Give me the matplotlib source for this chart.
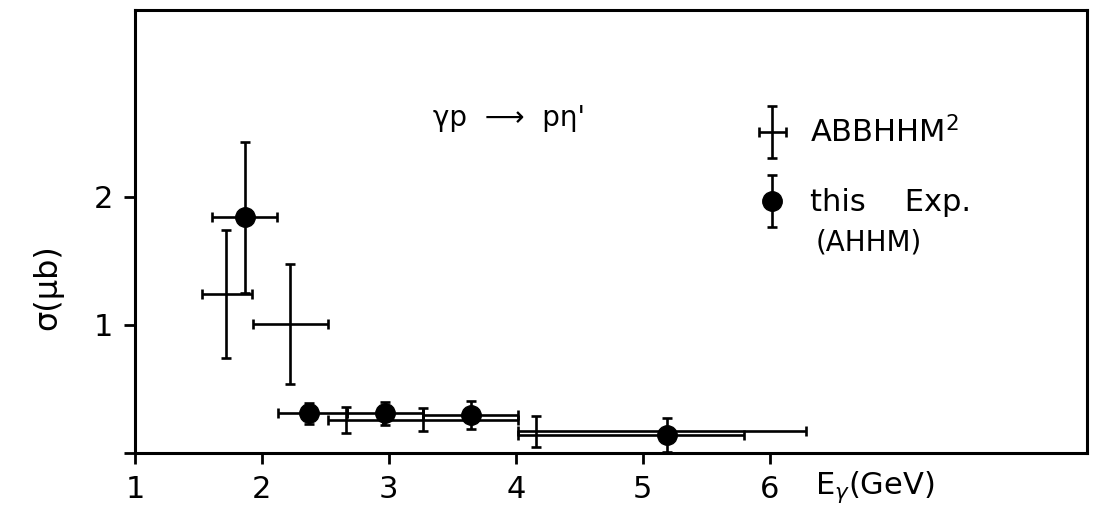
import numpy as np
import matplotlib
matplotlib.use("Agg")
import matplotlib.pyplot as plt
from matplotlib.container import ErrorbarContainer
from matplotlib.legend_handler import HandlerErrorbar

# Photon energy bins (GeV) and cross sections (microbarn) for  gamma p -> p eta'
# this experiment (AHHM)
e_ahhm = [1.87, 2.37, 2.97, 3.65, 5.19]
e_ahhm_lo = [1.61, 2.13, 2.67, 3.27, 4.02]
e_ahhm_hi = [2.12, 2.67, 3.27, 4.02, 5.80]
sig_ahhm = [1.84, 0.31, 0.31, 0.30, 0.14]
dsig_ahhm = [0.59, 0.08, 0.09, 0.11, 0.13]

# earlier measurement (ABBHHM)
e_abb = [1.72, 2.22, 2.66, 3.27, 4.16]
e_abb_lo = [1.53, 1.93, 2.52, 2.95, 4.02]
e_abb_hi = [1.92, 2.52, 2.95, 4.02, 6.29]
sig_abb = [1.24, 1.01, 0.26, 0.26, 0.17]
dsig_abb = [0.50, 0.47, 0.10, 0.09, 0.12]

x_ticks = [1, 2, 3, 4, 5, 6]
y_ticks = [0, 1, 2]
y_ticklabels = ["", "1", "2"]

W, H = 1096, 509


def px(x, y):
    """Figure-fraction position from pixel coordinates (origin top-left)."""
    return x / W, 1 - y / H


fig = plt.figure(figsize=(W / 100, H / 100), dpi=100)
ax = fig.add_axes([135 / W, 56 / H, 952 / W, 443 / H])

lw = 1.9
ax.errorbar(e_abb, sig_abb,
            xerr=[np.subtract(e_abb, e_abb_lo), np.subtract(e_abb_hi, e_abb)],
            yerr=dsig_abb, fmt="none", ecolor="black",
            elinewidth=lw, capsize=3.5, capthick=lw, zorder=3)
ax.errorbar(e_ahhm, sig_ahhm,
            xerr=[np.subtract(e_ahhm, e_ahhm_lo), np.subtract(e_ahhm_hi, e_ahhm)],
            yerr=dsig_ahhm, fmt="o", color="black", ms=14,
            elinewidth=lw, capsize=3.5, capthick=lw, zorder=4)

ax.set_xlim(1, 8.5)
ax.set_ylim(0, 3.46)
ax.set_xticks(x_ticks)
ax.set_yticks(y_ticks)
ax.set_yticklabels(y_ticklabels)
for s in ax.spines.values():
    s.set_linewidth(2.2)
ax.tick_params(direction="out", length=8, width=2, labelsize=22, pad=8)

# legend keys (no data drawn)
h_abb = ax.errorbar([np.nan], [np.nan], xerr=[0.1], yerr=[0.1], fmt="none",
                    ecolor="black", elinewidth=lw, capsize=3.5, capthick=lw)
h_ahhm = ax.errorbar([np.nan], [np.nan], yerr=[0.1], fmt="o", color="black",
                     ms=14, elinewidth=lw, capsize=3.5, capthick=lw)
leg = ax.legend([h_abb, h_ahhm], ["ABBHHM$^2$", "this    Exp."],
                handler_map={ErrorbarContainer: HandlerErrorbar(xerr_size=0.45, yerr_size=0.85)},
                loc="upper left", bbox_to_anchor=px(757, 116),
                bbox_transform=fig.transFigure, frameon=False, fontsize=22,
                handlelength=1.0, handletextpad=0.75, labelspacing=1.3,
                borderpad=0, borderaxespad=0)
fig.text(*px(816, 250), "(AHHM)", fontsize=20, va="baseline")

fig.text(*px(433, 126), "γp  ⟶  pη'", fontsize=20, va="baseline")
fig.text(*px(48, 287), "σ(μb)", fontsize=23, rotation=90, ha="center", va="center")
fig.text(*px(815, 494), r"E$_\gamma$(GeV)", fontsize=22, va="baseline")

fig.savefig("out.png", dpi=100)
